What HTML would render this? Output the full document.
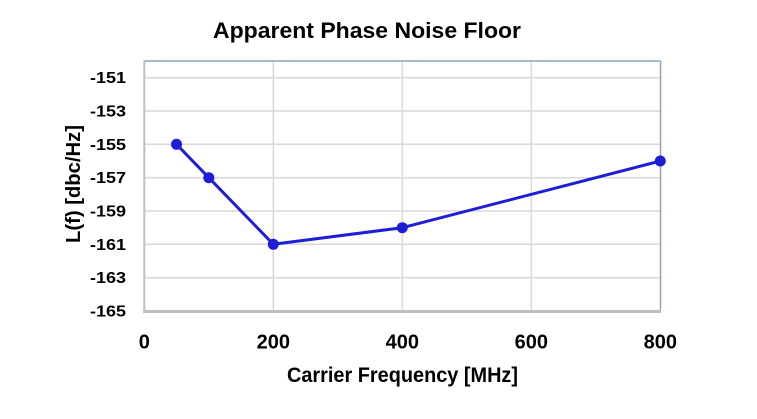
<!DOCTYPE html>
<html>
<head>
<meta charset="utf-8">
<style>
html,body{margin:0;padding:0;background:#fff;}
svg{display:block;}
text{font-family:"Liberation Sans",Arial,sans-serif;font-weight:bold;fill:#000;}
</style>
</head>
<body>
<svg width="757" height="419" viewBox="0 0 757 419" xmlns="http://www.w3.org/2000/svg">
  <rect x="0" y="0" width="757" height="419" fill="#fff"/>
  <!-- title -->
  <text x="213" y="38" font-size="22" textLength="308" lengthAdjust="spacingAndGlyphs">Apparent Phase Noise Floor</text>

  <!-- horizontal gridlines -->
  <g stroke="#d9d9d9" stroke-width="1.5">
    <line x1="144" y1="77.7" x2="660" y2="77.7"/>
    <line x1="144" y1="111" x2="660" y2="111"/>
    <line x1="144" y1="144.3" x2="660" y2="144.3"/>
    <line x1="144" y1="177.7" x2="660" y2="177.7"/>
    <line x1="144" y1="211" x2="660" y2="211"/>
    <line x1="144" y1="244.3" x2="660" y2="244.3"/>
    <line x1="144" y1="277.7" x2="660" y2="277.7"/>
    <!-- vertical gridlines -->
    <line x1="273.3" y1="61" x2="273.3" y2="311"/>
    <line x1="402.3" y1="61" x2="402.3" y2="311"/>
    <line x1="531.3" y1="61" x2="531.3" y2="311"/>
  </g>
  <!-- plot border top/right -->
  <g stroke="#8aa5b8" stroke-width="1.5" fill="none">
    <line x1="144" y1="61" x2="660.5" y2="61"/>
    <line x1="660.5" y1="61" x2="660.5" y2="311"/>
  </g>
  <!-- axes -->
  <line x1="144.3" y1="60.5" x2="144.3" y2="312" stroke="#bfbfbf" stroke-width="2"/>
  <line x1="143" y1="311.5" x2="661" y2="311.5" stroke="#bfbfbf" stroke-width="3"/>

  <!-- y tick labels -->
  <g font-size="16" text-anchor="end">
    <text x="126" y="83" textLength="36" lengthAdjust="spacingAndGlyphs">-151</text>
    <text x="126" y="116.5" textLength="36" lengthAdjust="spacingAndGlyphs">-153</text>
    <text x="126" y="149.8" textLength="36" lengthAdjust="spacingAndGlyphs">-155</text>
    <text x="126" y="183.2" textLength="36" lengthAdjust="spacingAndGlyphs">-157</text>
    <text x="126" y="216.5" textLength="36" lengthAdjust="spacingAndGlyphs">-159</text>
    <text x="126" y="249.8" textLength="36" lengthAdjust="spacingAndGlyphs">-161</text>
    <text x="126" y="283.2" textLength="36" lengthAdjust="spacingAndGlyphs">-163</text>
    <text x="126" y="316.5" textLength="36" lengthAdjust="spacingAndGlyphs">-165</text>
  </g>

  <!-- x tick labels -->
  <g font-size="20" text-anchor="middle">
    <text x="144.3" y="348.5">0</text>
    <text x="273.3" y="348.5">200</text>
    <text x="402.3" y="348.5">400</text>
    <text x="531.3" y="348.5">600</text>
    <text x="660.3" y="348.5">800</text>
  </g>

  <!-- axis titles -->
  <text x="287" y="382" font-size="21" textLength="231" lengthAdjust="spacingAndGlyphs">Carrier Frequency [MHz]</text>
  <text transform="translate(80,243) rotate(-90)" font-size="20" textLength="118" lengthAdjust="spacingAndGlyphs">L(f) [dbc/Hz]</text>

  <!-- series -->
  <polyline points="176.5,144.3 208.8,177.7 273.3,244.3 402.3,227.7 660.3,161" fill="none" stroke="#1e1ed8" stroke-width="3" stroke-linejoin="round"/>
  <g fill="#1e1ed8">
    <circle cx="176.5" cy="144.3" r="5.5"/>
    <circle cx="208.8" cy="177.7" r="5.5"/>
    <circle cx="273.3" cy="244.3" r="5.5"/>
    <circle cx="402.3" cy="227.7" r="5.5"/>
    <circle cx="660.3" cy="161" r="5.5"/>
  </g>
</svg>
</body>
</html>
